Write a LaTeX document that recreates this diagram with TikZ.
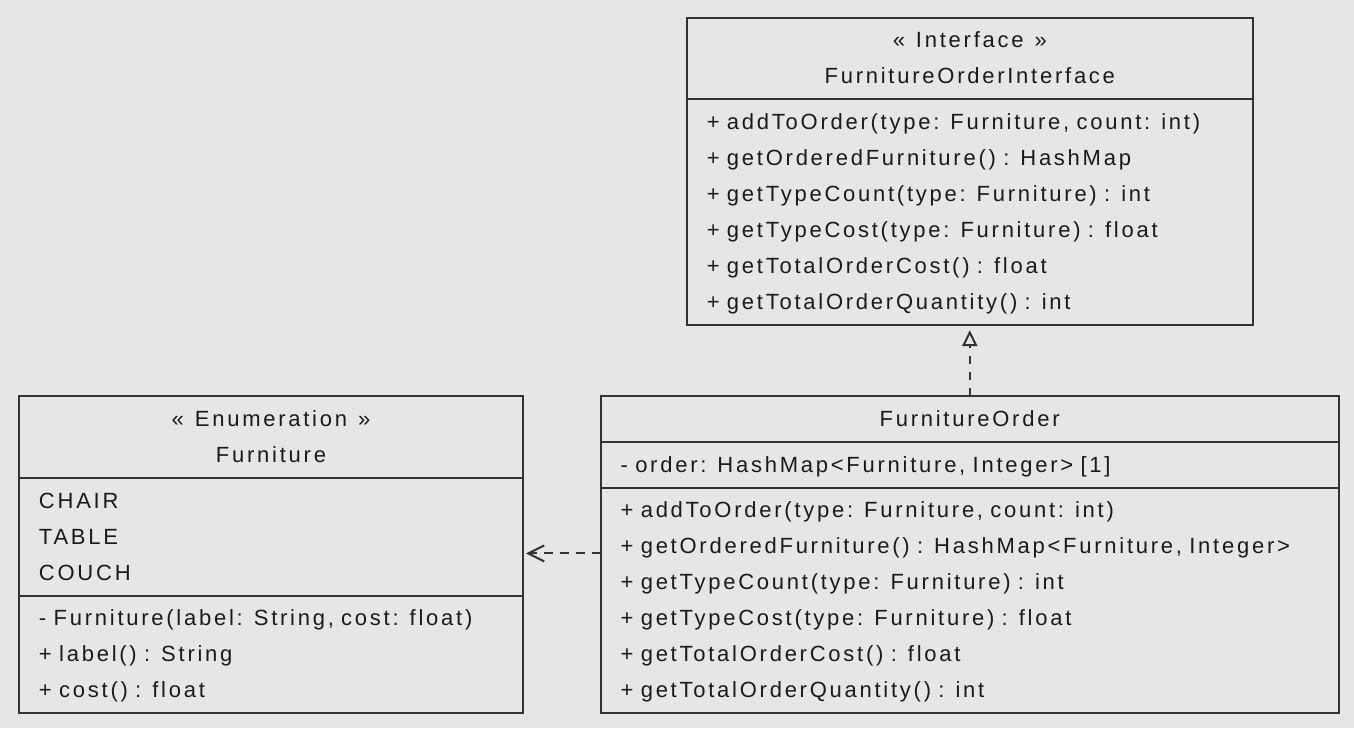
\documentclass[tikz,border=0pt]{standalone}
\usepackage{fontspec}
\setmainfont[LetterSpace=12.5]{Liberation Sans}
\usepackage{tikz}
\usetikzlibrary{positioning,arrows.meta}
\definecolor{umlbg}{HTML}{E6E6E6}
\definecolor{umlline}{HTML}{333333}
\definecolor{umltext}{HTML}{1A1A1A}
\newcommand{\umlfont}{\fontsize{11}{18}\selectfont\fontdimen2\font=5.5pt\spaceskip=5.5pt plus 1pt\relax}

\begin{document}
\begin{tikzpicture}[x=1pt,y=1pt,
        font=\umlfont, text=umltext,
        box/.style={draw=umlline, line width=1pt, outer sep=0pt, inner xsep=10pt, inner ysep=0pt},
        head/.style={box},
        list/.style={box, text width=#1},
        realize/.style={draw=umlline, line width=1pt, dash pattern=on 4pt off 4pt,
            -{Triangle[open,length=8pt,width=7.5pt]}, shorten >=2.5pt},
        depend/.style={draw=umlline, line width=1pt, dash pattern=on 4.5pt off 3.5pt,
            -{Straight Barb[length=8pt,width=8pt]}, shorten >=1.5pt}]
        \path[use as bounding box, fill=umlbg] (0,0) rectangle (677,-364);

        \node[head, minimum width=283pt, minimum height=40.8pt, anchor=north west] (ifacehead) at (343.4,-8.85) {\begin{tabular}{@{}c@{}}
        « Interface »\\
        FurnitureOrderInterface
        \end{tabular}};
        \node[list=263pt, minimum height=112.9pt, below=0pt of ifacehead] (ifaceops) {\begin{tabular}{@{}l@{}}
        + addToOrder(type: Furniture, count: int)\\
        + getOrderedFurniture() : HashMap\\
        + getTypeCount(type: Furniture) : int\\
        + getTypeCost(type: Furniture) : float\\
        + getTotalOrderCost() : float\\
        + getTotalOrderQuantity() : int
        \end{tabular}};

        \node[head, minimum width=369pt, minimum height=23pt, anchor=north west] (orderhead) at (300.3,-197.9) {\begin{tabular}{@{}c@{}}
        FurnitureOrder
        \end{tabular}};
        \node[list=349pt, minimum height=23pt, below=0pt of orderhead] (orderattr) {\begin{tabular}{@{}l@{}}
        - order: HashMap<Furniture, Integer> [1]
        \end{tabular}};
        \node[list=349pt, minimum height=112.4pt, below=0pt of orderattr] (orderops) {\begin{tabular}{@{}l@{}}
        + addToOrder(type: Furniture, count: int)\\
        + getOrderedFurniture() : HashMap<Furniture, Integer>\\
        + getTypeCount(type: Furniture) : int\\
        + getTypeCost(type: Furniture) : float\\
        + getTotalOrderCost() : float\\
        + getTotalOrderQuantity() : int
        \end{tabular}};

        \node[head, minimum width=252pt, minimum height=41.3pt, anchor=north west] (furnhead) at (9.5,-197.9) {\begin{tabular}{@{}c@{}}
        « Enumeration »\\
        Furniture
        \end{tabular}};
        \node[list=232pt, minimum height=58.9pt, below=0pt of furnhead] (furnvals) {\begin{tabular}{@{}l@{}}
        CHAIR\\
        TABLE\\
        COUCH
        \end{tabular}};
        \node[list=232pt, minimum height=58.2pt, below=0pt of furnvals] (furnops) {\begin{tabular}{@{}l@{}}
        - Furniture(label: String, cost: float)\\
        + label() : String\\
        + cost() : float
        \end{tabular}};

        \draw[realize] (orderhead.north -| ifaceops.south) -- (ifaceops.south);
        \coordinate (dep) at (0,-276.7);
        \draw[depend] (orderops.west |- dep) -- (furnvals.east |- dep);
    \end{tikzpicture}
\end{document}
